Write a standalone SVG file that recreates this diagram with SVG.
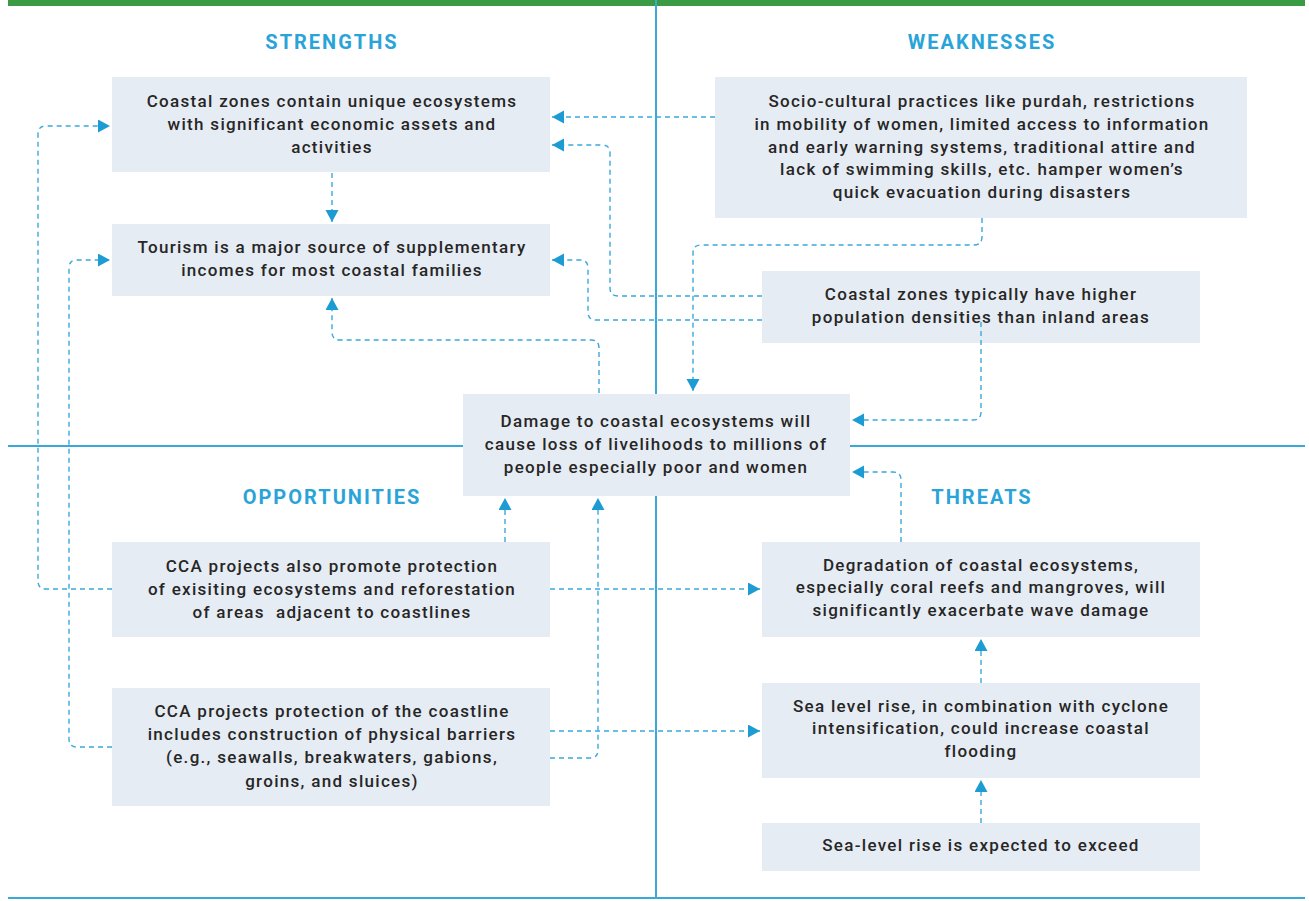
<svg xmlns="http://www.w3.org/2000/svg" width="1309" height="901" viewBox="0 0 1309 901">
<style>
.box{fill:#e6ecf3}
.t{font-family:Roboto,"Liberation Sans",sans-serif;font-size:17px;font-weight:500;fill:#262626;text-anchor:middle;letter-spacing:1.3px}
.h{font-family:Roboto,"Liberation Sans",sans-serif;font-size:20px;font-weight:700;fill:#2aa4d8;text-anchor:middle;letter-spacing:2px}
.div{stroke:#3aa9da;stroke-width:2;fill:none}
.c{stroke:#3aa9da;stroke-width:1.4;fill:none;stroke-dasharray:5 4;marker-end:url(#ah)}
</style>
<defs>
<marker id="ah" markerUnits="userSpaceOnUse" markerWidth="14" markerHeight="14" refX="12" refY="6.5" orient="auto">
<path d="M0,0 L12,6.5 L0,13 z" fill="#1d9bd3"/>
</marker>
</defs>
<rect x="0" y="0" width="1309" height="901" fill="#ffffff"/>
<g id="frame">
<rect x="8" y="0" width="1297" height="6" fill="#3a9b44"/>
<line class="div" x1="656" y1="0" x2="656" y2="898"/>
<line class="div" x1="8" y1="446" x2="1305" y2="446"/>
<line class="div" x1="8" y1="898" x2="1305" y2="898"/>
</g>
<g id="headers">
<text class="h" x="332" y="49">STRENGTHS</text>
<text class="h" x="982" y="49">WEAKNESSES</text>
<text class="h" x="332" y="504">OPPORTUNITIES</text>
<text class="h" x="982" y="504">THREATS</text>
</g>
<g id="s1">
<rect class="box" x="112" y="77" width="438" height="95"/>
<text class="t" x="332" y="107">Coastal zones contain unique ecosystems</text>
<text class="t" x="332" y="130">with significant economic assets and</text>
<text class="t" x="332" y="153">activities</text>
</g>
<g id="s2">
<rect class="box" x="112" y="224" width="438" height="72"/>
<text class="t" x="332" y="253">Tourism is a major source of supplementary</text>
<text class="t" x="332" y="276">incomes for most coastal families</text>
</g>
<g id="w1">
<rect class="box" x="715" y="77" width="532" height="141"/>
<text class="t" x="982" y="107">Socio-cultural practices like purdah, restrictions</text>
<text class="t" x="982" y="130">in mobility of women, limited access to information</text>
<text class="t" x="982" y="153">and early warning systems, traditional attire and</text>
<text class="t" x="982" y="175">lack of swimming skills, etc. hamper women’s</text>
<text class="t" x="982" y="198">quick evacuation during disasters</text>
</g>
<g id="w2">
<rect class="box" x="762" y="271" width="438" height="72"/>
<text class="t" x="981" y="300">Coastal zones typically have higher</text>
<text class="t" x="981" y="323">population densities than inland areas</text>
</g>
<g id="center">
<rect class="box" x="463" y="394" width="387" height="102"/>
<text class="t" x="656" y="427">Damage to coastal ecosystems will</text>
<text class="t" x="656" y="450">cause loss of livelihoods to millions of</text>
<text class="t" x="656" y="473">people especially poor and women</text>
</g>
<g id="o1">
<rect class="box" x="112" y="542" width="438" height="95"/>
<text class="t" x="332" y="572">CCA projects also promote protection</text>
<text class="t" x="332" y="595">of exisiting ecosystems and reforestation</text>
<text class="t" x="332" y="618" style="white-space:pre">of areas  adjacent to coastlines</text>
</g>
<g id="o2">
<rect class="box" x="112" y="688" width="438" height="118"/>
<text class="t" x="332" y="717">CCA projects protection of the coastline</text>
<text class="t" x="332" y="740">includes construction of physical barriers</text>
<text class="t" x="332" y="763">(e.g., seawalls, breakwaters, gabions,</text>
<text class="t" x="332" y="787">groins, and sluices)</text>
</g>
<g id="t1">
<rect class="box" x="762" y="542" width="438" height="95"/>
<text class="t" x="981" y="571">Degradation of coastal ecosystems,</text>
<text class="t" x="981" y="593">especially coral reefs and mangroves, will</text>
<text class="t" x="981" y="616">significantly exacerbate wave damage</text>
</g>
<g id="t2">
<rect class="box" x="762" y="683" width="438" height="95"/>
<text class="t" x="981" y="712">Sea level rise, in combination with cyclone</text>
<text class="t" x="981" y="734">intensification, could increase coastal</text>
<text class="t" x="981" y="757">flooding</text>
</g>
<g id="t3">
<rect class="box" x="762" y="823" width="438" height="48"/>
<text class="t" x="981" y="851">Sea-level rise is expected to exceed</text>
</g>
<g id="connectors">
<path class="c" d="M715,117 H552"/>
<path class="c" d="M762,296 H618 Q610,296 610,288 V153 Q610,145 602,145 H552"/>
<path class="c" d="M762,320 H596 Q588,320 588,312 V268 Q588,260 580,260 H552"/>
<path class="c" d="M332,173 V222"/>
<path class="c" d="M599,393 V348 Q599,340 591,340 H340 Q332,340 332,332 V298"/>
<path class="c" d="M982,218 V237 Q982,245 974,245 H701 Q693,245 693,253 V391"/>
<path class="c" d="M981,322 V412 Q981,420 973,420 H852"/>
<path class="c" d="M901,542 V480 Q901,472 893,472 H852"/>
<path class="c" d="M112,589 H46 Q38,589 38,581 V134 Q38,126 46,126 H110"/>
<path class="c" d="M112,747 H77 Q69,747 69,739 V268 Q69,260 77,260 H110"/>
<path class="c" d="M505,542 V498"/>
<path class="c" d="M550,758 H590 Q598,758 598,750 V498"/>
<path class="c" d="M550,589 H760"/>
<path class="c" d="M550,731 H760"/>
<path class="c" d="M981,683 V639"/>
<path class="c" d="M981,823 V780"/>
</g>
</svg>
